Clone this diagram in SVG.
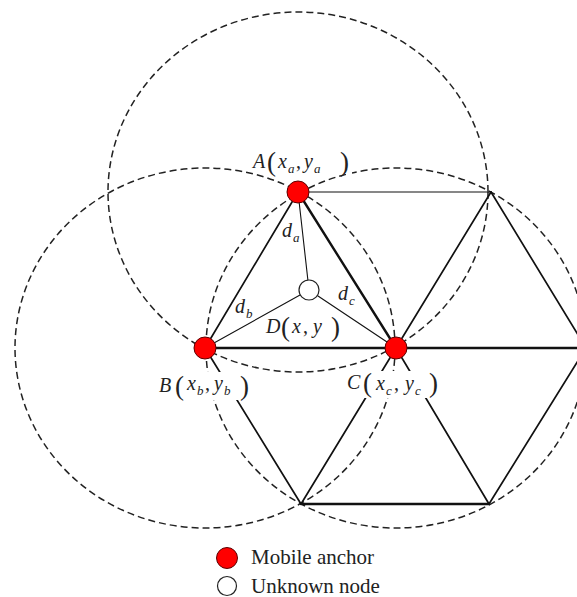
<svg xmlns="http://www.w3.org/2000/svg" width="577" height="597" viewBox="0 0 577 597">
<style>
.rng{fill:none;stroke:#222;stroke-width:1.5;stroke-dasharray:7 4}
.ln{stroke:#111;fill:none;stroke-linecap:round}
.w1{stroke-width:1.1}
.w2{stroke-width:1.7}
.w3{stroke-width:2.4}
.anchor{fill:#ff0000;stroke:#5a0000;stroke-width:1}
.unk{fill:#fff;stroke:#222;stroke-width:1.2}
.v{font-family:"Liberation Serif",serif;font-style:italic;font-size:20px;fill:#222}
.s{font-family:"Liberation Serif",serif;font-style:italic;font-size:13px;fill:#222}
.p{font-family:"Liberation Serif",serif;font-size:27px;fill:#222}
.c{font-family:"Liberation Serif",serif;font-size:20px;fill:#222}
.leg{font-family:"Liberation Serif",serif;font-size:21px;fill:#222}
.bg{fill:#fff}
</style>
<g id="ranges">
<ellipse class="rng" cx="298" cy="192" rx="190" ry="180"/>
<ellipse class="rng" cx="205" cy="348" rx="190" ry="180"/>
<ellipse class="rng" cx="396" cy="348" rx="190" ry="180"/>
</g>
<g id="connectors">
<line class="ln w1" x1="298" y1="192" x2="491" y2="192"/>
<line class="ln w2" x1="298" y1="192" x2="205" y2="348"/>
<line class="ln w3" x1="298" y1="192" x2="396" y2="348"/>
<line class="ln w1" x1="298" y1="192" x2="309" y2="290"/>
<line class="ln w1" x1="205" y1="348" x2="309" y2="290"/>
<line class="ln w1" x1="396" y1="348" x2="309" y2="290"/>
<line class="ln w3" x1="205" y1="348" x2="396" y2="348"/>
<line class="ln w3" x1="396" y1="348" x2="590" y2="348"/>
<line class="ln w2" x1="396" y1="348" x2="491" y2="192"/>
<line class="ln w2" x1="491" y1="192" x2="586" y2="348"/>
<line class="ln w2" x1="205" y1="348" x2="301" y2="504"/>
<line class="ln w2" x1="396" y1="348" x2="301" y2="504"/>
<line class="ln w2" x1="396" y1="348" x2="489" y2="504"/>
<line class="ln w2" x1="489" y1="504" x2="586" y2="348"/>
<line class="ln w3" x1="301" y1="504" x2="489" y2="504"/>
</g>
<g id="labels">
<rect class="bg" x="253" y="150" width="99" height="24"/>
<rect class="bg" x="158" y="372" width="94" height="28"/>
<rect class="bg" x="345" y="371" width="93" height="27"/>
<g id="label-A">
<text class="v" x="253" y="168">A</text><text class="p" x="267" y="171">(</text><text class="v" x="278" y="168">x</text><text class="s" x="288" y="173">a</text><text class="c" x="296" y="168">,</text><text class="v" x="304" y="168">y</text><text class="s" x="314" y="173">a</text><text class="p" x="340" y="171">)</text>
</g>
<g id="label-da"><text class="v" x="282" y="237">d</text><text class="s" x="293" y="242">a</text></g>
<g id="label-db"><text class="v" x="235" y="313">d</text><text class="s" x="246" y="318">b</text></g>
<g id="label-dc"><text class="v" x="338" y="300">d</text><text class="s" x="349" y="305">c</text></g>
<g id="label-D">
<text class="v" x="266" y="333">D</text><text class="p" x="281" y="336">(</text><text class="v" x="292" y="333">x</text><text class="c" x="303" y="333">,</text><text class="v" x="313" y="333">y</text><text class="p" x="331" y="336">)</text>
</g>
<g id="label-B">
<text class="v" x="159" y="392">B</text><text class="p" x="175" y="395">(</text><text class="v" x="187" y="390">x</text><text class="s" x="197" y="395">b</text><text class="c" x="205" y="390">,</text><text class="v" x="214" y="390">y</text><text class="s" x="224" y="395">b</text><text class="p" x="240" y="395">)</text>
</g>
<g id="label-C">
<text class="v" x="347" y="389">C</text><text class="p" x="363" y="392">(</text><text class="v" x="376" y="390">x</text><text class="s" x="386" y="395">c</text><text class="c" x="394" y="390">,</text><text class="v" x="405" y="390">y</text><text class="s" x="415" y="395">c</text><text class="p" x="429" y="392">)</text>
</g>
</g>
<g id="node-A"><circle class="anchor" cx="298" cy="192" r="11"/></g>
<g id="node-B"><circle class="anchor" cx="205" cy="348" r="11"/></g>
<g id="node-C"><circle class="anchor" cx="396" cy="348" r="11"/></g>
<g id="node-D"><circle class="unk" cx="309" cy="290" r="10"/></g>
<g id="legend">
<circle class="anchor" cx="227" cy="558" r="10.5"/>
<text class="leg" x="251" y="564">Mobile anchor</text>
<circle class="unk" cx="227" cy="586" r="9.5"/>
<text class="leg" x="251" y="593">Unknown node</text>
</g>
</svg>
